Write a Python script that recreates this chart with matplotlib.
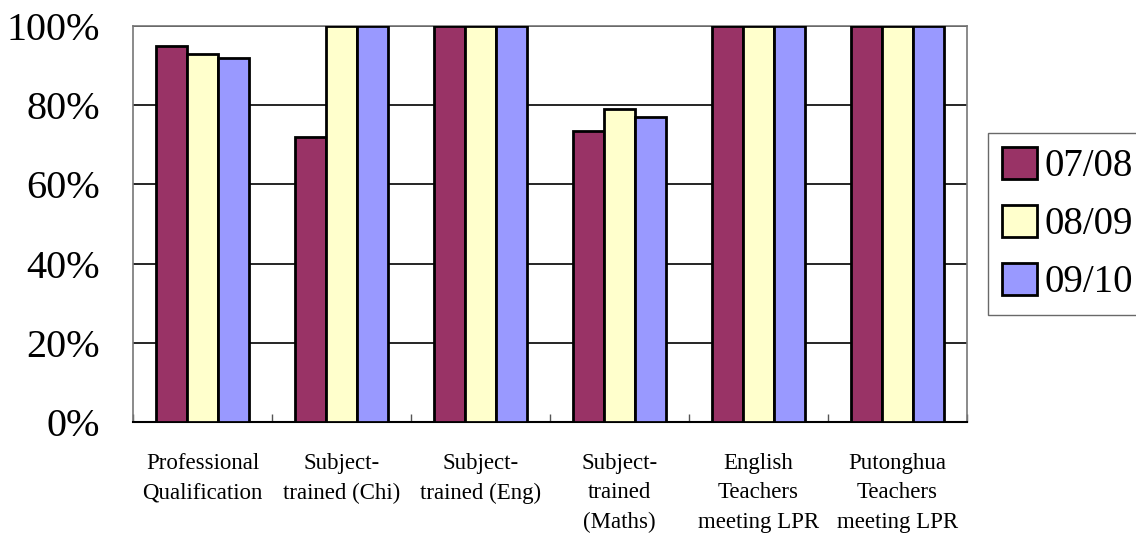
import numpy as np
import matplotlib
matplotlib.use('Agg')
from matplotlib import pyplot as plt

plt.rcParams['font.family'] = ['Liberation Serif', 'DejaVu Serif']

categories = ['Professional\nQualification', 'Subject-\ntrained (Chi)',
              'Subject-\ntrained (Eng)', 'Subject-\ntrained\n(Maths)',
              'English\nTeachers\nmeeting LPR', 'Putonghua\nTeachers\nmeeting LPR']
years = ['07/08', '08/09', '09/10']
v0708 = [95, 72, 100, 73.5, 100, 100]
v0809 = [93, 100, 100, 79, 100, 100]
v0910 = [92, 100, 100, 77, 100, 100]
colors = ['#993366', '#FFFFCC', '#9999FF']

fig = plt.figure(figsize=(11.36, 5.4), dpi=100)
ax = fig.add_axes([133/1136, 1-422/540, (967-133)/1136, (422-26)/540])

x = np.arange(len(categories))
w = 0.225
for i, (vals, lab) in enumerate(zip([v0708, v0809, v0910], years)):
    ax.bar(x + (i-1)*w, vals, w, color=colors[i], edgecolor='black',
           linewidth=2, label=lab, zorder=3)

ax.set_xlim(-0.5, len(categories)-0.5)
ax.set_ylim(0, 100)
ax.set_yticks(range(0, 101, 20))
ax.set_yticklabels(['%d%%' % v for v in range(0, 101, 20)], fontsize=29)
ax.tick_params(axis='y', length=0, pad=24)
ax.grid(axis='y', color='black', linewidth=1.2, zorder=0)

# category labels centred, ticks at boundaries
ax.set_xticks(x)
ax.set_xticklabels(categories, fontsize=16.5, linespacing=1.55, va='top')
ax.tick_params(axis='x', which='major', length=0, pad=22)
ax.set_xticks(np.arange(len(categories)+1) - 0.5, minor=True)
ax.tick_params(axis='x', which='minor', direction='in', length=6, width=1, color='#555555')

for s in ['top', 'right', 'left']:
    ax.spines[s].set_color('#777777')
    ax.spines[s].set_linewidth(1.2)
ax.spines['bottom'].set_color('black')
ax.spines['bottom'].set_linewidth(1.5)

leg = fig.legend(loc='upper left', bbox_to_anchor=(988/1136, 1-133/540),
                 fontsize=28, frameon=True, fancybox=False, edgecolor='#444444',
                 handlelength=0.9, handleheight=0.9, handletextpad=0.2,
                 labelspacing=0.5, borderpad=0.35, borderaxespad=0)
leg.get_frame().set_linewidth(1.0)

fig.savefig('out.png', dpi=100)
